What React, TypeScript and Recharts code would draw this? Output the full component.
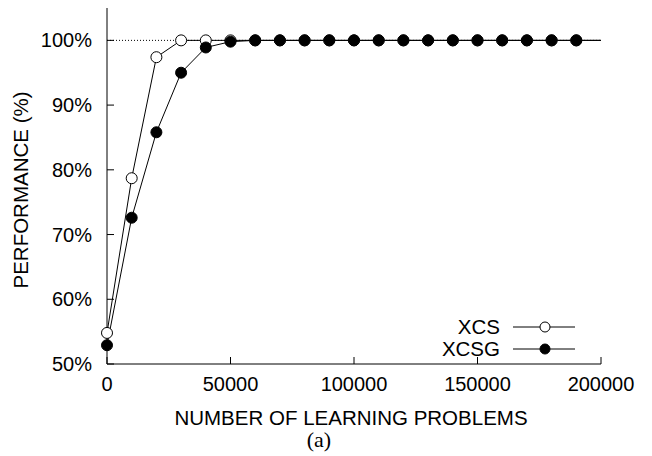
import React from 'react';
import { LineChart, Line, XAxis, YAxis, ReferenceLine, Legend } from 'recharts';

const problems = [0, 10000, 20000, 30000, 40000, 50000, 60000, 70000, 80000, 90000, 100000, 110000, 120000, 130000, 140000, 150000, 160000, 170000, 180000, 190000, 200000];
const xcs = [54.8, 78.7, 97.4, 100, 100, 100, 100, 100, 100, 100, 100, 100, 100, 100, 100, 100, 100, 100, 100, 100, 100];
const xcsg = [52.9, 72.6, 85.8, 95.0, 98.9, 99.8, 100, 100, 100, 100, 100, 100, 100, 100, 100, 100, 100, 100, 100, 100, 100];
const xTicks = [0, 50000, 100000, 150000, 200000];
const yTicks = [50, 60, 70, 80, 90, 100];
const seriesNames = ['XCS', 'XCSG'];
const seriesFill = ['#ffffff', '#000000'];

const data = problems.map((p, i) => ({ p, XCS: xcs[i], XCSG: xcsg[i] }));

const FONT = '"Liberation Sans", Arial, Helvetica, sans-serif';
const FS = 20;
const TICK = 7;

const BottomTick = (props: any) => {
  const { x, y, payload } = props;
  return (
    <g>
      <line x1={x} x2={x} y1={y} y2={y - TICK} stroke="#000" strokeWidth={1} />
      <text x={x} y={y + 27} textAnchor="middle" fontFamily={FONT} fontSize={FS} fill="#000">{payload.value}</text>
    </g>
  );
};
const TopTick = (props: any) => {
  const { x, y } = props;
  return <line x1={x} x2={x} y1={y} y2={y + TICK} stroke="#000" strokeWidth={1} />;
};
const LeftTick = (props: any) => {
  const { x, y, payload } = props;
  return (
    <g>
      <line x1={x} x2={x + TICK} y1={y} y2={y} stroke="#000" strokeWidth={1} />
      <text x={x - 15} y={y + 7} textAnchor="end" fontFamily={FONT} fontSize={FS} fill="#000">{payload.value}%</text>
    </g>
  );
};
const RightTick = (props: any) => {
  const { x, y } = props;
  return <line x1={x} x2={x - TICK} y1={y} y2={y} stroke="#000" strokeWidth={1} />;
};

const XLabel = (props: any) => {
  const vb = props.viewBox;
  const cx = vb.x + vb.width / 2 - 3;
  return (
    <g>
      <text x={cx} y={425} textAnchor="middle" fontFamily={FONT} fontSize={20.5} fill="#000">NUMBER OF LEARNING PROBLEMS</text>
      <text x={cx - 32} y={447} textAnchor="middle" fontFamily='"Liberation Serif", "DejaVu Serif", serif' fontSize={22} fill="#000">(a)</text>
    </g>
  );
};

const YLabel = (props: any) => {
  const vb = props.viewBox;
  const cy = vb.y + vb.height / 2 + 4;
  return (
    <text x={28} y={cy} transform={`rotate(-90 28 ${cy})`} textAnchor="middle" fontFamily={FONT} fontSize={20.5} fill="#000">PERFORMANCE (%)</text>
  );
};

const makeDot = (fill: string) => (props: any) => {
  const { cx, cy, index } = props;
  if (index === problems.length - 1) return <g key={`d${index}`} />;
  return <circle key={`d${index}`} cx={cx} cy={cy} r={5.5} fill={fill} stroke="#000" strokeWidth={1} />;
};

const LegendContent = () => (
  <div style={{ position: 'relative', width: 0, height: 0 }}>
    <svg width={200} height={50} style={{ position: 'absolute', left: 0, top: 0, overflow: 'visible' }}>
      {seriesNames.map((n, i) => {
        const cy = 15 + i * 22;
        return (
          <g key={n}>
            <text x={100} y={cy + 7} textAnchor="end" fontFamily={FONT} fontSize={20.5} fill="#000">{n}</text>
            <line x1={113} x2={175} y1={cy} y2={cy} stroke="#000" strokeWidth={1} />
            <circle cx={145} cy={cy} r={5} fill={seriesFill[i]} stroke="#000" strokeWidth={1} />
          </g>
        );
      })}
    </svg>
  </div>
);

export default function App() {
  return (
    <div style={{ position: 'absolute', left: 0, top: 0, width: 652, height: 456, background: '#fff' }}>
      <LineChart width={652} height={456} data={data} margin={{ top: 8, right: 51, bottom: 62, left: 47 }}>
        <XAxis xAxisId="b" dataKey="p" type="number" domain={[0, 200000]} ticks={xTicks} orientation="bottom" height={30}
          axisLine={{ stroke: '#000' }} tickLine={false} tickSize={0} tickMargin={0} tick={<BottomTick />} interval={0}
          label={<XLabel />} />
        <XAxis xAxisId="t" dataKey="p" type="number" domain={[0, 200000]} ticks={xTicks} orientation="top" height={0}
          axisLine={{ stroke: '#000' }} tickLine={false} tickSize={0} tickMargin={0} tick={<TopTick />} interval={0} />
        <YAxis yAxisId="l" type="number" domain={[50, 105]} ticks={yTicks} orientation="left" width={60}
          axisLine={{ stroke: '#000' }} tickLine={false} tickSize={0} tickMargin={0} tick={<LeftTick />} interval={0}
          label={<YLabel />} />
        <YAxis yAxisId="r" type="number" domain={[50, 105]} ticks={yTicks} orientation="right" width={0}
          axisLine={{ stroke: '#000' }} tickLine={false} tickSize={0} tickMargin={0} tick={<RightTick />} interval={0} />
        <ReferenceLine xAxisId="b" yAxisId="l" y={100} stroke="#000" strokeWidth={1} strokeDasharray="1 2" />
        <Line xAxisId="b" yAxisId="l" type="linear" dataKey="XCS" name="XCS" stroke="#000" strokeWidth={1}
          dot={makeDot('#fff')} isAnimationActive={false} />
        <Line xAxisId="b" yAxisId="l" type="linear" dataKey="XCSG" name="XCSG" stroke="#000" strokeWidth={1}
          dot={makeDot('#000')} isAnimationActive={false} />
        <Legend content={<LegendContent />} wrapperStyle={{ position: 'absolute', left: 400, top: 312, width: 0, height: 0 }} />
      </LineChart>
    </div>
  );
}
